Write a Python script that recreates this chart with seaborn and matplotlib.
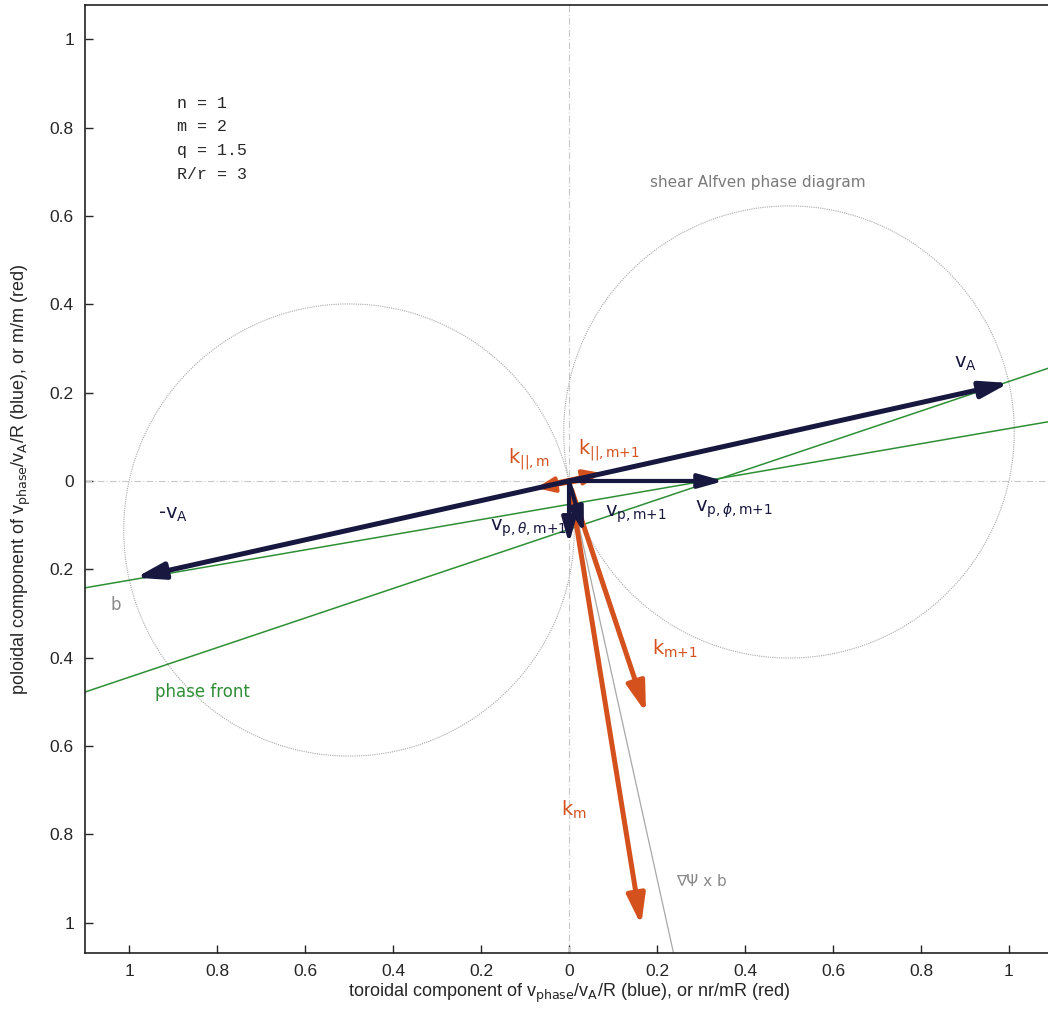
import numpy as np
import pandas as pd
import matplotlib
matplotlib.use("Agg")
import matplotlib.pyplot as plt
import seaborn as sns
from matplotlib.ticker import FuncFormatter

# parameters shown in the box
params = ["n = 1", "m = 2", "q = 1.5", "R/r = 3"]

# phase circles (diameter = +/- vA)
circle_cx = [0.5, -0.5]
circle_cy = [0.111, -0.111]
circle_r = [0.512, 0.512]

# straight guide lines (x ends, y ends)
line_x = [-1.1, 1.1]
b_line_y = [-0.242, 0.136]
front_line_y = [-0.478, 0.259]
grad_x = [0.0, 0.24]
grad_y = [0.0, -1.08]

# blue (navy) phase velocity arrows: start x, start y, end x, end y
blue_names = ["vA", "-vA", "vp_phi", "vp_theta", "vp"]
blue_x0 = [0.0, 0.0, 0.0, 0.0, 0.0]
blue_y0 = [0.0, 0.0, 0.0, 0.0, 0.0]
blue_x1 = [1.0, -0.985, 0.352, 0.0, 0.034]
blue_y1 = [0.222, -0.219, 0.0, -0.142, -0.118]

# red (orange) wave vector arrows
red_names = ["k_m", "k_m+1", "kpar_m", "kpar_m+1"]
red_x0 = [0.004, 0.006, 0.04, -0.03]
red_y0 = [-0.02, -0.02, 0.003, -0.004]
red_x1 = [0.164, 0.175, -0.075, 0.074]
red_y1 = [-1.006, -0.525, -0.016, 0.018]

navy = "#17173f"
orange = "#d4501c"
green = "#2f8f35"
grey = "#8a8a8a"

sns.set_style("ticks")
plt.rcParams['font.family'] = ['Liberation Sans', 'DejaVu Sans']
plt.rcParams['mathtext.fontset'] = 'dejavusans'

fig = plt.figure(figsize=(10.48, 10.09), dpi=100)
ax = fig.add_axes([85 / 1048, 56 / 1009, 968 / 1048, 948 / 1009])
ax.set_xlim(-1.1, 1.1)
ax.set_ylim(-1.069, 1.078)

# zero axes
ax.axhline(0, color="#c8c8c8", lw=0.8, ls=(0, (6, 2, 1, 2)), zorder=1)
ax.axvline(0, color="#c8c8c8", lw=0.8, ls=(0, (6, 2, 1, 2)), zorder=1)

# circles
th = np.linspace(0, 2 * np.pi, 400)
for cx, cy, r in zip(circle_cx, circle_cy, circle_r):
    circ = pd.DataFrame({"x": cx + r * np.cos(th), "y": cy + r * np.sin(th)})
    sns.lineplot(data=circ, x="x", y="y", sort=False, estimator=None, ax=ax,
                 color="#a8a8a8", lw=0.8, ls=(0, (1, 1)), zorder=1)

# green lines
sns.lineplot(x=line_x, y=b_line_y, ax=ax, color=green, lw=1.1, zorder=2)
sns.lineplot(x=line_x, y=front_line_y, ax=ax, color=green, lw=1.1, zorder=2)
sns.lineplot(x=grad_x, y=grad_y, ax=ax, color="#a8a8a8", lw=0.9, zorder=2)


def arrow(x0, y0, x1, y1, color, lw, hl, hw):
    ax.annotate("", xy=(x1, y1), xytext=(x0, y0),
                arrowprops=dict(arrowstyle=f"-|>,head_length={hl},head_width={hw}",
                                color=color, lw=lw, shrinkA=0, shrinkB=0,
                                mutation_scale=10),
                zorder=4)


for i, nm in enumerate(red_names):
    small = nm.startswith("kpar")
    arrow(red_x0[i], red_y0[i], red_x1[i], red_y1[i], orange,
          3.0 if small else 3.6, 1.1 if small else 1.8, 0.45 if small else 0.55)

for i, nm in enumerate(blue_names):
    big = nm in ("vA", "-vA")
    arrow(blue_x0[i], blue_y0[i], blue_x1[i], blue_y1[i], navy,
          3.6 if big else 3.0, 1.7 if big else 1.5, 0.5 if big else 0.42)

# texts
for j, t in enumerate(params):
    ax.text(-0.89, 0.856 - j * 0.054, t, family="Liberation Mono", fontsize=12,
            va="center", ha="left")
ax.text(0.43, 0.677, "shear Alfven phase diagram", family="DejaVu Sans",
        fontsize=11, color="#7a7a7a", ha="center", va="center")
ax.text(0.9, 0.265, r"v$_\mathrm{A}$", family="DejaVu Sans", fontsize=14,
        color=navy, ha="center", va="center")
ax.text(-0.9, -0.075, r"-v$_\mathrm{A}$", family="DejaVu Sans", fontsize=14,
        color=navy, ha="center", va="center")
ax.text(-1.03, -0.281, "b", family="DejaVu Sans", fontsize=12, color=grey,
        ha="center", va="center")
ax.text(-0.94, -0.478, "phase front", family="DejaVu Sans", fontsize=12,
        color=green, ha="left", va="center")
ax.text(-0.09, 0.05, r"k$_\mathrm{||,m}$", family="DejaVu Sans", fontsize=14,
        color=orange, ha="center", va="center")
ax.text(0.09, 0.07, r"k$_\mathrm{||,m{+}1}$", family="DejaVu Sans", fontsize=14,
        color=orange, ha="center", va="center")
ax.text(-0.005, -0.108, r"v$_{\mathrm{p,}\theta\mathrm{,m{+}1}}$", family="DejaVu Sans",
        fontsize=14, color=navy, ha="right", va="center")
ax.text(0.152, -0.075, r"v$_\mathrm{p,m{+}1}$", family="DejaVu Sans", fontsize=14,
        color=navy, ha="center", va="center")
ax.text(0.375, -0.065, r"v$_{\mathrm{p,}\phi\mathrm{,m{+}1}}$", family="DejaVu Sans",
        fontsize=14, color=navy, ha="center", va="center")
ax.text(0.24, -0.38, r"k$_\mathrm{m{+}1}$", family="DejaVu Sans", fontsize=14,
        color=orange, ha="center", va="center")
ax.text(0.01, -0.745, r"k$_\mathrm{m}$", family="DejaVu Sans", fontsize=14,
        color=orange, ha="center", va="center")
ax.text(0.30, -0.908, "\u2207\u03a8 x b", family="DejaVu Sans", fontsize=11,
        color=grey, ha="center", va="center")

ticks = [-1, -0.8, -0.6, -0.4, -0.2, 0, 0.2, 0.4, 0.6, 0.8, 1]
ax.set_xticks(ticks)
ax.set_yticks(ticks)
fmt = FuncFormatter(lambda v, p: f"{abs(v):g}")
ax.xaxis.set_major_formatter(fmt)
ax.yaxis.set_major_formatter(fmt)
ax.tick_params(direction="in", length=6, width=1, labelsize=12.5, pad=8)
for s in ax.spines.values():
    s.set_linewidth(1.2)
    s.set_color("#222222")

ax.set_xlabel(r"toroidal component of v$_\mathrm{phase}$/v$_\mathrm{A}$/R (blue), or nr/mR (red)",
              fontsize=13, labelpad=2)
ax.set_ylabel(r"poloidal component of v$_\mathrm{phase}$/v$_\mathrm{A}$/R (blue), or m/m (red)",
              fontsize=13, labelpad=12)

fig.savefig("out.png", dpi=100)
